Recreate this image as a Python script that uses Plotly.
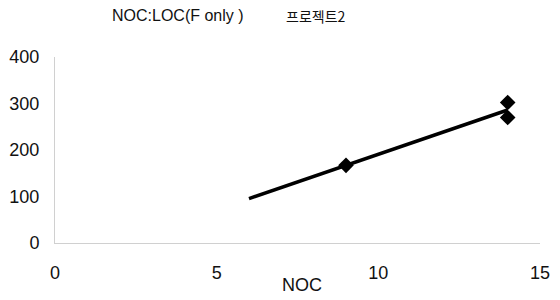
import numpy as np
import plotly.graph_objects as go

# Data
noc = [9, 14, 14]
loc = [167, 302, 270]
trend_start = 6  # trendline extended back to NOC=6

x_ticks = [0, 5, 10, 15]
y_ticks = [0, 100, 200, 300, 400]

title_left = "NOC:LOC(F only )"
title_right = "프로젝트2"
x_title = "NOC"

slope, intercept = np.polyfit(noc, loc, 1)
tx = [trend_start, max(noc)]
ty = [slope * v + intercept for v in tx]

fig = go.Figure()
fig.add_trace(go.Scatter(x=tx, y=ty, mode="lines",
                         line=dict(color="black", width=3.5), showlegend=False))
fig.add_trace(go.Scatter(x=noc, y=loc, mode="markers",
                         marker=dict(symbol="diamond", size=12, color="black"),
                         showlegend=False))

W, H = 560, 300
L, R, T, B = 55, 20, 57, 57
pw = W - L - R
ph = H - T - B

def px2paper_x(px):
    return (px - L) / pw

def px2paper_y(py):
    return 1 - (py - T) / ph

fam = "Liberation Sans, Arial, sans-serif"
tickfont = dict(family=fam, size=18, color="#111")

fig.update_layout(
    width=W, height=H,
    margin=dict(l=L, r=R, t=T, b=B, autoexpand=False),
    paper_bgcolor="white", plot_bgcolor="white",
    font=dict(family=fam, size=15, color="#111"),
    xaxis=dict(range=[0, 15], tickvals=x_ticks, showgrid=False, zeroline=False,
               showline=True, linecolor="#d0d0d0", linewidth=1, automargin=False,
               ticks="", ticklabelstandoff=13, tickfont=tickfont),
    yaxis=dict(range=[0, 400], tickvals=y_ticks, showgrid=False, zeroline=False,
               showline=True, linecolor="#d0d0d0", linewidth=1, automargin=False,
               ticks="", ticklabelstandoff=11, tickfont=tickfont),
    annotations=[
        dict(text=title_left, x=px2paper_x(178), y=px2paper_y(16), xref="paper", yref="paper",
             xanchor="center", yanchor="middle", showarrow=False,
             font=dict(family=fam, size=16, color="#111")),
        dict(text=title_right, x=px2paper_x(316), y=px2paper_y(16), xref="paper", yref="paper",
             xanchor="center", yanchor="middle", showarrow=False,
             font=dict(family="Noto Sans CJK KR, sans-serif", size=14, color="#111")),
        dict(text=x_title, x=px2paper_x(302), y=px2paper_y(285), xref="paper", yref="paper",
             xanchor="center", yanchor="middle", showarrow=False,
             font=dict(family=fam, size=18, color="#111")),
    ],
)

fig.write_html("out.html",
               config={"displayModeBar": False},
               post_script="document.body.style.margin='0';document.body.style.overflow='hidden';")
